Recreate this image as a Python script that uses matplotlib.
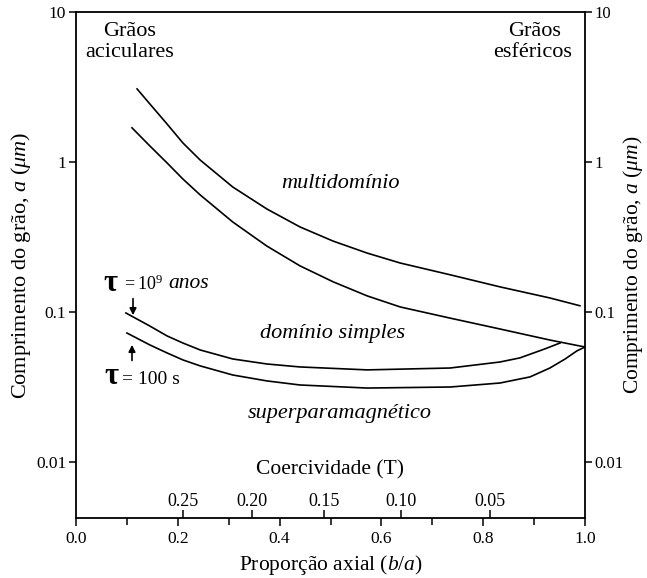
import numpy as np
import matplotlib
matplotlib.use("Agg")
import matplotlib.pyplot as plt
from matplotlib.ticker import NullLocator

plt.rcParams['font.family'] = ['Liberation Serif', 'DejaVu Serif']
plt.rcParams['mathtext.fontset'] = 'custom'
plt.rcParams['mathtext.rm'] = 'Liberation Serif'
plt.rcParams['mathtext.it'] = 'Liberation Serif:italic'
plt.rcParams['mathtext.bf'] = 'Liberation Serif:bold'

# limite superior do campo multidominio
md_sup_b = [0.120, 0.145, 0.179, 0.210, 0.244, 0.308, 0.375, 0.440, 0.505, 0.572,
            0.637, 0.735, 0.833, 0.931, 0.990]
md_sup_a = [3.07, 2.44, 1.79, 1.34, 1.03, 0.681, 0.486, 0.369, 0.297, 0.247,
            0.212, 0.177, 0.147, 0.124, 0.110]

# limite inferior do campo multidominio
md_inf_b = [0.110, 0.145, 0.179, 0.210, 0.244, 0.308, 0.375, 0.440, 0.505, 0.572,
            0.637, 0.735, 0.833, 0.931, 1.000]
md_inf_a = [1.69, 1.28, 0.985, 0.770, 0.603, 0.398, 0.275, 0.203, 0.159, 0.128,
            0.108, 0.091, 0.077, 0.065, 0.0584]

# limite superparamagnetico, tau = 10^9 anos
sp_9_b = [0.098, 0.145, 0.179, 0.210, 0.244, 0.308, 0.375, 0.440, 0.572, 0.735,
          0.833, 0.872, 0.921, 0.951]
sp_9_a = [0.0985, 0.0806, 0.0692, 0.0621, 0.0558, 0.0486, 0.0450, 0.0430, 0.0411, 0.0423,
          0.0464, 0.0494, 0.0567, 0.0621]

# limite superparamagnetico, tau = 100 s
sp_100_b = [0.100, 0.145, 0.179, 0.210, 0.244, 0.308, 0.375, 0.440, 0.572, 0.735,
            0.833, 0.892, 0.931, 0.961, 0.984, 1.000]
sp_100_a = [0.0724, 0.0603, 0.0533, 0.0479, 0.0437, 0.0380, 0.0347, 0.0326, 0.0311, 0.0316,
            0.0336, 0.0369, 0.0423, 0.0486, 0.0550, 0.0584]

# escala de coercividade sobre o eixo b/a
coerc_pos = [0.211, 0.346, 0.488, 0.638, 0.814]
coerc_lab = ['0.25', '0.20', '0.15', '0.10', '0.05']

y_ticks = [0.01, 0.1, 1, 10]
y_labels = ['0.01', '0.1', '1', '10']
ylab = r'Comprimento do grão, $\mathit{a\ (\mu m)}$'

fig = plt.figure(figsize=(6.47, 5.78), dpi=100)
ax = fig.add_axes([76/647, 1-518/578, 509/647, 506/578])

for bb, aa in [(md_sup_b, md_sup_a), (md_inf_b, md_inf_a), (sp_9_b, sp_9_a), (sp_100_b, sp_100_a)]:
    ax.plot(bb, aa, color='black', lw=1.2, solid_joinstyle='round')

ax.set_yscale('log')
ax.set_xlim(0, 1)
ax.set_ylim(0.00423, 10)
ax.set_yticks(y_ticks)
ax.set_yticklabels(y_labels)
ax.yaxis.set_minor_locator(NullLocator())
ax.set_xticks(np.arange(0, 1.01, 0.1), minor=True)
ax.set_xticks([0, 0.2, 0.4, 0.6, 0.8, 1.0])
ax.set_xticklabels(['0.0', '0.2', '0.4', '0.6', '0.8', '1.0'])
for s in ax.spines.values():
    s.set_linewidth(1.3)

ax.set_xlabel(r'Proporção axial $\mathit{(b/a)}$', fontsize=15.5, labelpad=4)
ax.set_ylabel(ylab, fontsize=16)
ax.yaxis.set_label_coords(-0.084, 0.5)

# eixo direito com os mesmos valores
ax_r = ax.twinx()
ax_r.set_yscale('log')
ax_r.set_ylim(ax.get_ylim())
ax_r.set_yticks(y_ticks)
ax_r.set_yticklabels(y_labels)
ax_r.yaxis.set_minor_locator(NullLocator())
ax_r.tick_params(axis='y', direction='out', length=5, width=1.1, pad=2, labelsize=12)
ax_r.set_ylabel(ylab, fontsize=15.5)
ax_r.yaxis.set_label_coords(1.071, 0.5)
for s in ax_r.spines.values():
    s.set_visible(False)

ax.tick_params(axis='both', which='both', direction='out', labelsize=12.5, width=1.1,
               top=True, right=False, labelright=False)
ax.tick_params(axis='both', which='major', length=6)
ax.tick_params(axis='y', which='major', length=5, pad=2)
ax.tick_params(axis='x', which='minor', length=5)

# eixo de coercividade desenhado dentro do grafico
ax_c = ax.twiny()
ax_c.set_xlim(ax.get_xlim())
ax_c.xaxis.tick_bottom()
ax_c.set_xticks(coerc_pos)
ax_c.set_xticklabels(coerc_lab)
ax_c.tick_params(axis='x', direction='in', length=6, width=1.1, pad=-18, labelsize=13)
for s in ax_c.spines.values():
    s.set_visible(False)
ax.text(0.5, 0.095, 'Coercividade (T)', transform=ax.transAxes, fontsize=15.5,
        ha='center', va='center')

ax.text(0.106, 0.962, 'Grãos', transform=ax.transAxes, fontsize=16, ha='center', va='center')
ax.text(0.106, 0.920, 'aciculares', transform=ax.transAxes, fontsize=16, ha='center', va='center')
ax.text(0.900, 0.962, 'Grãos', transform=ax.transAxes, fontsize=16, ha='center', va='center')
ax.text(0.897, 0.920, 'esféricos', transform=ax.transAxes, fontsize=16, ha='center', va='center')

ax.text(0.519, 0.724, 'multidomínio', fontsize=16, style='italic', ha='center', va='center')
ax.text(0.505, 0.0724, 'domínio simples', fontsize=16, style='italic', ha='center', va='center')
ax.text(0.519, 0.0212, 'superparamagnético', fontsize=16, style='italic', ha='center', va='center')

# rotulos de tau com setas
ax.text(0.067, 0.156, 'τ', fontsize=22, fontweight='bold', ha='center', va='center')
ax.text(0.090, 0.153, r'$=10^{9}$', fontsize=13, ha='left', va='center')
ax.text(0.181, 0.156, 'anos', fontsize=15.5, style='italic', ha='left', va='center')
ax.annotate('', xy=(0.112, 0.0912), xytext=(0.112, 0.128),
            arrowprops=dict(arrowstyle='-|>', color='black', lw=1.2, mutation_scale=10))
ax.annotate('', xy=(0.110, 0.063), xytext=(0.110, 0.0455),
            arrowprops=dict(arrowstyle='-|>', color='black', lw=1.2, mutation_scale=10))
ax.text(0.069, 0.0374, 'τ', fontsize=22, fontweight='bold', ha='center', va='center')
ax.text(0.090, 0.0352, '= 100 s', fontsize=14, ha='left', va='center')

fig.savefig('out.png', dpi=100)
